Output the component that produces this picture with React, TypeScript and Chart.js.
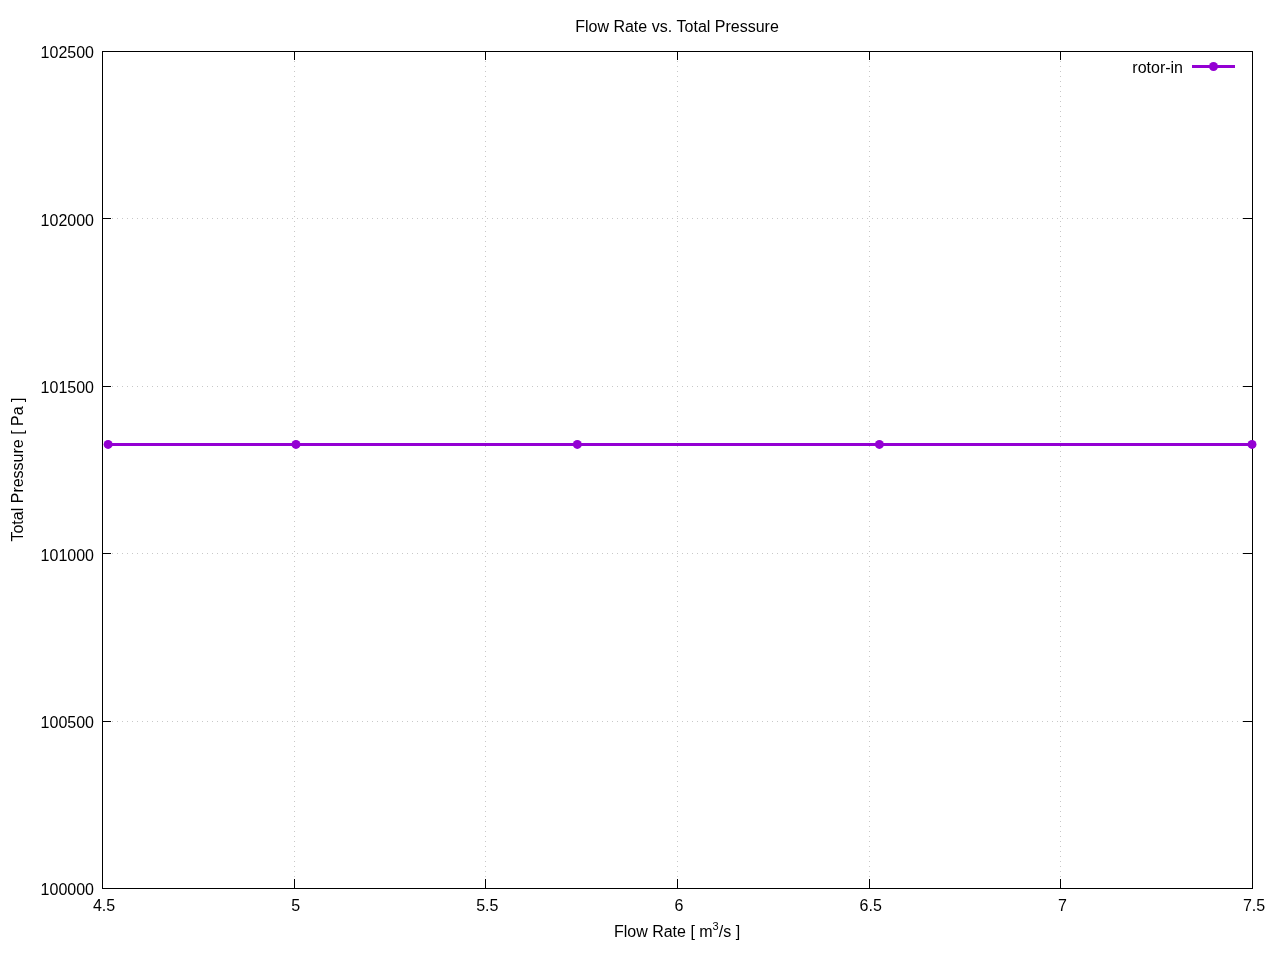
import React, { useEffect, useRef } from "react";
import { Chart, registerables } from "chart.js";

Chart.register(...registerables);

const chartTitle = "Flow Rate vs. Total Pressure";
const seriesLabel = "rotor-in";
const flowRate = [4.516, 5.006, 5.74, 6.528, 7.5];
const totalPressure = [101325, 101325, 101325, 101325, 101325];
const xTicks = [4.5, 5, 5.5, 6, 6.5, 7, 7.5];
const yTicks = [100000, 100500, 101000, 101500, 102000, 102500];

const FONT = "16px 'Liberation Sans', Arial, sans-serif";
const COLOR = "#9400D3";

const framePlugin = {
  id: "gnuframe",
  beforeDatasetsDraw(chart: any) {
    const { ctx, chartArea: a, scales } = chart;
    const xs = scales.x;
    const ys = scales.y;
    ctx.save();
    // grid
    ctx.strokeStyle = "#c8c8c8";
    ctx.lineWidth = 1;
    ctx.setLineDash([1, 4]);
    xTicks.forEach((t) => {
      const px = Math.round(xs.getPixelForValue(t)) + 0.5;
      ctx.beginPath();
      ctx.moveTo(px, a.top);
      ctx.lineTo(px, a.bottom);
      ctx.stroke();
    });
    yTicks.forEach((t) => {
      const py = Math.round(ys.getPixelForValue(t)) + 0.5;
      ctx.beginPath();
      ctx.moveTo(a.left, py);
      ctx.lineTo(a.right, py);
      ctx.stroke();
    });
    ctx.setLineDash([]);
    // ticks inward
    ctx.strokeStyle = "#000";
    const tl = 9;
    xTicks.forEach((t) => {
      const px = Math.round(xs.getPixelForValue(t)) + 0.5;
      ctx.beginPath();
      ctx.moveTo(px, a.bottom);
      ctx.lineTo(px, a.bottom - tl);
      ctx.moveTo(px, a.top);
      ctx.lineTo(px, a.top + tl);
      ctx.stroke();
    });
    yTicks.forEach((t) => {
      const py = Math.round(ys.getPixelForValue(t)) + 0.5;
      ctx.beginPath();
      ctx.moveTo(a.left, py);
      ctx.lineTo(a.left + tl, py);
      ctx.moveTo(a.right, py);
      ctx.lineTo(a.right - tl, py);
      ctx.stroke();
    });
    // frame
    ctx.strokeRect(
      Math.round(a.left) + 0.5,
      Math.round(a.top) + 0.5,
      Math.round(a.right - a.left),
      Math.round(a.bottom - a.top)
    );
    // tick labels
    ctx.fillStyle = "#000";
    ctx.font = FONT;
    ctx.textBaseline = "middle";
    ctx.textAlign = "center";
    xTicks.forEach((t) => {
      ctx.fillText(String(t), xs.getPixelForValue(t) + 2, 907);
    });
    ctx.textAlign = "right";
    yTicks.forEach((t) => {
      ctx.fillText(String(t), 94, ys.getPixelForValue(t) + 3);
    });
    ctx.restore();
  },
  afterDraw(chart: any) {
    const { ctx, chartArea: a } = chart;
    ctx.save();
    ctx.fillStyle = "#000";
    ctx.font = FONT;
    ctx.textBaseline = "middle";
    // title
    ctx.textAlign = "center";
    ctx.fillText(chartTitle, (a.left + a.right) / 2, 28);
    // x-axis label with superscript
    const cx = (a.left + a.right) / 2;
    const p1 = "Flow Rate [ m";
    const p2 = "3";
    const p3 = "/s ]";
    const supFont = "11px 'Liberation Sans', Arial, sans-serif";
    const w1 = ctx.measureText(p1).width;
    const w3 = ctx.measureText(p3).width;
    ctx.font = supFont;
    const w2 = ctx.measureText(p2).width;
    const total = w1 + w2 + w3;
    const x0 = cx - total / 2;
    const ly = 933;
    ctx.textAlign = "left";
    ctx.font = FONT;
    ctx.fillText(p1, x0, ly);
    ctx.font = supFont;
    ctx.fillText(p2, x0 + w1, ly - 6);
    ctx.font = FONT;
    ctx.fillText(p3, x0 + w1 + w2, ly);
    // y-axis label
    ctx.save();
    ctx.translate(19, (a.top + a.bottom) / 2);
    ctx.rotate(-Math.PI / 2);
    ctx.textAlign = "center";
    ctx.fillText("Total Pressure [ Pa ]", 0, 0);
    ctx.restore();
    // legend
    ctx.textAlign = "right";
    ctx.fillText(seriesLabel, 1183, 69);
    ctx.strokeStyle = COLOR;
    ctx.lineWidth = 3;
    ctx.beginPath();
    ctx.moveTo(1192, 66.5);
    ctx.lineTo(1235, 66.5);
    ctx.stroke();
    ctx.fillStyle = COLOR;
    ctx.beginPath();
    ctx.arc(1213.5, 66.5, 4.5, 0, Math.PI * 2);
    ctx.fill();
    ctx.restore();
  },
};

export default function App() {
  const ref = useRef<HTMLCanvasElement | null>(null);
  useEffect(() => {
    if (!ref.current) return;
    const chart = new Chart(ref.current, {
      type: "line",
      data: {
        datasets: [
          {
            label: seriesLabel,
            data: flowRate.map((x, i) => ({ x, y: totalPressure[i] })),
            borderColor: COLOR,
            backgroundColor: COLOR,
            borderWidth: 3,
            pointRadius: 4.5,
            pointBorderWidth: 0,
            pointBackgroundColor: COLOR,
            tension: 0,
            clip: false as any,
          },
        ],
      },
      options: {
        animation: false,
        responsive: false,
        maintainAspectRatio: false,
        layout: { padding: { left: 0, top: 51, right: 28, bottom: 0 } },
        plugins: {
          legend: { display: false },
          title: { display: false },
          tooltip: { enabled: false },
        },
        scales: {
          x: {
            type: "linear",
            min: 4.5,
            max: 7.5,
            afterFit: (s: any) => {
              s.height = 72;
            },
            afterBuildTicks: (s: any) => {
              s.ticks = xTicks.map((v) => ({ value: v }));
            },
            grid: { display: false, drawTicks: false },
            border: { display: false },
            ticks: { display: false },
          },
          y: {
            type: "linear",
            min: 100000,
            max: 102500,
            afterFit: (s: any) => {
              s.width = 102;
            },
            afterBuildTicks: (s: any) => {
              s.ticks = yTicks.map((v) => ({ value: v }));
            },
            grid: { display: false, drawTicks: false },
            border: { display: false },
            ticks: { display: false },
          },
        },
      },
      plugins: [framePlugin],
    });
    return () => chart.destroy();
  }, []);
  return (
    <div style={{ position: "absolute", left: 0, top: 0, width: 1280, height: 960, background: "#fff" }}>
      <canvas ref={ref} width={1280} height={960} style={{ width: 1280, height: 960 }} />
    </div>
  );
}
